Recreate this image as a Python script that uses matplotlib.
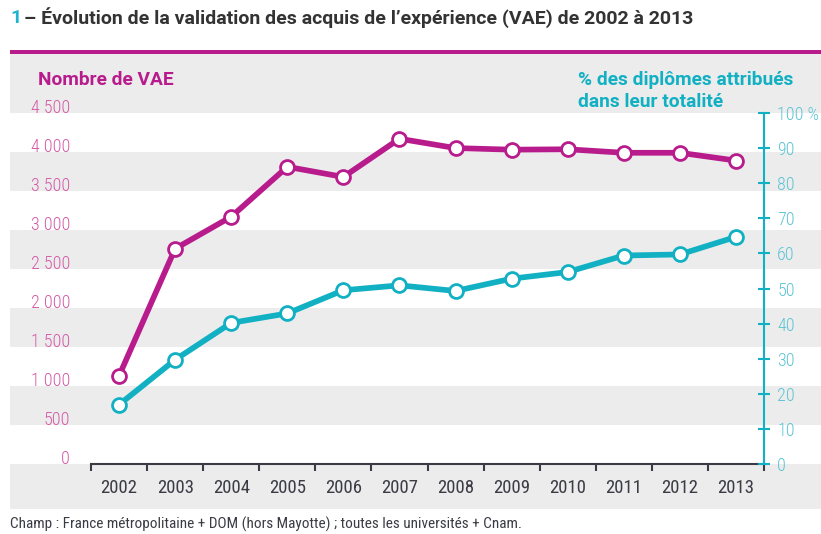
import numpy as np
import matplotlib.pyplot as plt
from matplotlib.patches import Rectangle
from matplotlib.transforms import blended_transform_factory

# data
years = [2002, 2003, 2004, 2005, 2006, 2007, 2008, 2009, 2010, 2011, 2012, 2013]
nb_vae = [1130, 2760, 3170, 3810, 3680, 4170, 4050, 4030, 4035, 3990, 3990, 3890]
pct_totalite = [16.9, 29.7, 40.2, 42.9, 49.5, 50.9, 49.3, 52.8, 54.7, 59.4, 59.7, 64.7]

left_ticks = [0, 500, 1000, 1500, 2000, 2500, 3000, 3500, 4000, 4500]
left_labels = ["0", "500", "1 000", "1 500", "2 000", "2 500", "3 000", "3 500", "4 000", "4 500"]
right_ticks = [0, 10, 20, 30, 40, 50, 60, 70, 80, 90, 100]
right_labels = ["0", "10", "20", "30", "40", "50", "60", "70", "80", "90", "100 %"]

title = "– Évolution de la validation des acquis de l’expérience (VAE) de 2002 à 2013"
left_title = "Nombre de VAE"
right_title = ["% des diplômes attribués", "dans leur totalité"]
footer = "Champ : France métropolitaine + DOM (hors Mayotte) ; toutes les universités + Cnam."

MAGENTA = "#b81c8c"
MAGENTA_TXT = "#d45aa6"
CYAN = "#12b0c3"
CYAN_TXT = "#5cc4d3"
GREY = "#ececec"
DARK = "#3b3b45"

narrow = ["Roboto Condensed", "IBM Plex Sans Condensed", "DejaVu Sans"]
bold = ["Roboto", "DejaVu Sans"]

W, H = 821, 534
fig = plt.figure(figsize=(W / 100, H / 100), dpi=100)

# axes box in pixels: x 91..764, y 113..464 (top-down)
ax = fig.add_axes([91 / W, (H - 464) / H, 673 / W, 351 / H])
ax.set_xlim(2001.5, 2013.5)
ax.set_ylim(0, 4500)
ax.patch.set_visible(False)

# grey stripes spanning the whole width
tr = blended_transform_factory(fig.transFigure, ax.transData)
x0, x1 = 10 / W, 1.0
for lo, hi in [(500, 1000), (1500, 2000), (2500, 3000), (3500, 4000), (4500, 5270), (-580, 0)]:
    fig.patches.append(Rectangle((x0, lo), x1 - x0, hi - lo, transform=tr,
                                 facecolor=GREY, edgecolor="none", zorder=-10))
# magenta top rule
fig.patches.append(Rectangle((x0, 480 / H), x1 - x0, 4 / H, transform=fig.transFigure,
                             facecolor=MAGENTA, edgecolor="none", zorder=-10))

ax.plot(years, nb_vae, color=MAGENTA, lw=4.1, marker="o", ms=10,
        mfc="white", mec=MAGENTA, mew=2, zorder=5, clip_on=False)

for s in ["left", "top", "right"]:
    ax.spines[s].set_visible(False)
ax.spines["bottom"].set_color(DARK)
ax.spines["bottom"].set_linewidth(1.5)

ax.set_yticks(left_ticks, left_labels)
ax.tick_params(axis="y", length=0, pad=15, labelsize=13, labelcolor=MAGENTA_TXT)
for lab in ax.get_yticklabels():
    lab.set_fontfamily(narrow)
    lab.set_fontweight("light")
    lab.set_verticalalignment("baseline")

ax.set_xticks(years, [str(y) for y in years])
ax.set_xticks(np.arange(2001.5, 2013.6, 1), minor=True)
ax.tick_params(axis="x", which="major", length=0, pad=11, labelsize=13.5, labelcolor=DARK)
ax.tick_params(axis="x", which="minor", length=5, width=1.5, color=DARK, direction="out")
for lab in ax.get_xticklabels():
    lab.set_fontfamily(narrow)

ax2 = ax.twinx()
ax2.set_ylim(0, 100)
ax2.patch.set_visible(False)
for s in ["left", "top", "bottom"]:
    ax2.spines[s].set_visible(False)
ax2.spines["right"].set_color(CYAN)
ax2.spines["right"].set_linewidth(1.5)
ax2.set_yticks(right_ticks, right_labels)
ax2.tick_params(axis="y", direction="inout", length=9, width=1.5, color=CYAN,
                pad=5, labelsize=13, labelcolor=CYAN_TXT)
for lab in ax2.get_yticklabels():
    lab.set_fontfamily(narrow)
    lab.set_fontweight("light")

ax2.plot(years, pct_totalite, color=CYAN, lw=4.1, marker="o", ms=10,
         mfc="white", mec=CYAN, mew=2, zorder=5, clip_on=False)

# texts
fig.text(10 / W, 1 - 18 / H, "1", color="#1fb3d0", fontsize=14, fontweight="bold",
         family=bold, va="center")
fig.text(24 / W, 1 - 18 / H, title, color="#333333", fontsize=14,
         fontweight="bold", family=bold, va="center")
fig.text(38 / W, 1 - 80 / H, left_title, color=MAGENTA, fontsize=13.8,
         fontweight="bold", family=bold, va="center")
fig.text(578 / W, 1 - 80 / H, right_title[0], color=CYAN, fontsize=13.8,
         fontweight="bold", family=bold, va="center")
fig.text(578 / W, 1 - 102 / H, right_title[1], color=CYAN, fontsize=13.8,
         fontweight="bold", family=bold, va="center")
fig.text(10 / W, 1 - 524 / H, footer, color=DARK, fontsize=11, family=narrow,
         va="center")

fig.savefig("out.png", dpi=100)
